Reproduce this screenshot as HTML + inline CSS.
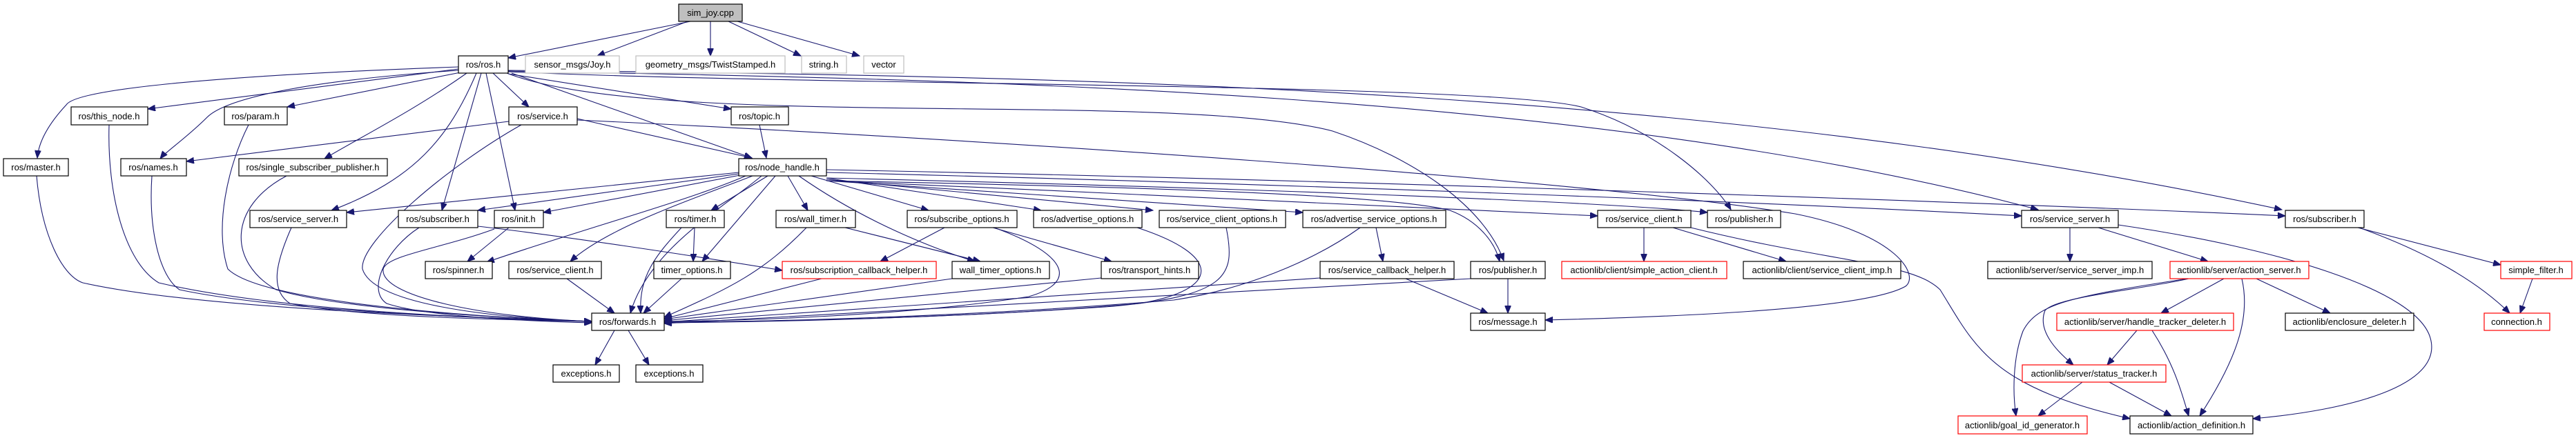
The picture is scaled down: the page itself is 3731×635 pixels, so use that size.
<!DOCTYPE html>
<html><head><meta charset="utf-8"><style>
html,body{margin:0;padding:0;background:#fff;}
svg{display:block;}
text{font-family:"Liberation Sans",Arial,sans-serif;font-size:13px;fill:#000;text-anchor:middle;}
.n{fill:#fff;stroke:#000;stroke-width:1.2;}
.g{fill:#fff;stroke:#bfbfbf;stroke-width:1.2;}
.r{fill:#fff;stroke:#ff0000;stroke-width:1.2;}
path{fill:none;stroke:#191970;stroke-width:1.1;marker-end:url(#a);}
</style></head><body>
<svg width="3731" height="635" viewBox="0 0 3731 635" xmlns="http://www.w3.org/2000/svg">
<defs><marker id="a" markerUnits="userSpaceOnUse" markerWidth="12" markerHeight="9" refX="11" refY="4.5" orient="auto"><polygon points="0,0 11,4.5 0,9" fill="#191970" stroke="#191970"/></marker></defs>
<!-- edges -->
<path d="M1000,31 L736,84"/>
<path d="M996,31 L865,81"/>
<path d="M1029,31 L1029,81"/>
<path d="M1055,31 L1160,81"/>
<path d="M1068,31 L1245,81"/>
<path d="M664,97 C300,110 110,130 96,152 C70,180 56,205 54,229"/>
<path d="M664,100 L214,158"/>
<path d="M672,104 L416,155"/>
<path d="M664,102 C400,120 320,150 300,170 C270,200 240,220 232,230"/>
<path d="M676,106 C600,160 520,200 470,230"/>
<path d="M714,106 L766,155"/>
<path d="M690,106 C650,200 600,260 480,305"/>
<path d="M697,106 L640,305"/>
<path d="M704,106 L746,305"/>
<path d="M736,107 L1059,158"/>
<path d="M741,106 L1089,229"/>
<path d="M736,104 C1200,125 2150,120 2290,155 C2400,190 2480,260 2507,304"/>
<path d="M736,103 C1400,115 2300,130 2952,304"/>
<path d="M736,102 C1600,110 2500,130 3305,304"/>
<path d="M734,106 C950,190 1700,130 1930,190 C2050,230 2150,300 2178,378"/>
<path d="M1100,181 L1110,229"/>
<path d="M737,176 L270,234"/>
<path d="M836,172 L1089,229"/>
<path d="M755,181 C650,240 520,350 525,390 C540,440 700,460 857,466"/>
<path d="M836,174 C1400,200 2300,260 2600,310 C2750,340 2780,400 2760,415 C2700,450 2400,460 2238,464"/>
<path d="M1070,250 L502,308"/>
<path d="M1070,252 L692,305"/>
<path d="M1072,254 L787,308"/>
<path d="M1080,255 C1000,290 850,330 705,380"/>
<path d="M1090,255 C1000,290 880,330 826,379"/>
<path d="M1103,255 C1050,300 940,360 913,454"/>
<path d="M1112,255 L1030,305"/>
<path d="M1123,255 L1017,379"/>
<path d="M1141,255 L1170,305"/>
<path d="M1157,255 C1250,320 1350,360 1412,379"/>
<path d="M1175,255 L1345,305"/>
<path d="M1197,258 L1508,305"/>
<path d="M1197,260 L1670,305"/>
<path d="M1197,262 L1887,308"/>
<path d="M1197,262 C1600,280 2100,300 2314,313"/>
<path d="M1197,258 C1700,270 2300,290 2473,308"/>
<path d="M1197,250 C1800,265 2500,290 2928,313"/>
<path d="M1197,246 C1900,260 2800,290 3310,313"/>
<path d="M1197,262 C1600,270 2000,280 2100,305 C2140,320 2165,350 2172,379"/>
<path d="M692,328 C800,340 1000,370 1133,392"/>
<path d="M607,330 C560,360 530,420 560,440 C620,460 780,466 857,468"/>
<path d="M737,330 L677,379"/>
<path d="M716,332 C640,360 560,370 555,390 C550,430 700,460 857,466"/>
<path d="M422,330 C400,380 390,420 420,440 C520,460 740,464 857,466"/>
<path d="M53,255 C60,340 90,400 120,410 C300,450 700,460 857,466"/>
<path d="M158,181 C155,280 180,380 230,410 C400,450 700,462 857,466"/>
<path d="M220,255 C215,330 230,400 260,420 C400,450 700,462 857,466"/>
<path d="M360,181 C330,240 310,330 330,390 C380,440 700,460 857,466"/>
<path d="M415,255 C330,300 330,380 400,420 C500,450 750,462 857,466"/>
<path d="M821,404 L890,454"/>
<path d="M1006,330 L1004,379"/>
<path d="M987,330 C950,370 925,400 928,454"/>
<path d="M987,404 L932,454"/>
<path d="M1224,330 L1420,379"/>
<path d="M1168,330 C1100,400 1050,420 962,460"/>
<path d="M1368,330 L1275,379"/>
<path d="M1438,330 L1610,379"/>
<path d="M1440,330 C1550,370 1560,410 1490,430 C1300,460 1050,465 962,466"/>
<path d="M1647,330 C1770,370 1770,420 1650,440 C1400,462 1100,466 962,467"/>
<path d="M1776,330 C1790,400 1780,430 1600,445 C1300,465 1050,467 962,468"/>
<path d="M1993,330 L2003,379"/>
<path d="M1970,330 C1900,380 1800,420 1700,435 C1400,460 1100,466 962,468"/>
<path d="M1190,404 L962,462"/>
<path d="M1379,404 L962,463"/>
<path d="M1595,403 L962,465"/>
<path d="M1912,403 L962,467"/>
<path d="M2036,404 L2155,454"/>
<path d="M2184,404 L2184,454"/>
<path d="M2130,404 L962,469"/>
<path d="M2381,330 L2381,379"/>
<path d="M2423,330 L2587,379"/>
<path d="M2449,330 C2650,380 2770,380 2810,420 C2860,500 2880,560 3085,607"/>
<path d="M2998,330 L2998,379"/>
<path d="M3039,330 L3198,379"/>
<path d="M3068,326 C3300,360 3500,420 3520,490 C3540,560 3400,595 3263,607"/>
<path d="M3415,330 L3622,384"/>
<path d="M3417,330 C3500,360 3580,400 3635,454"/>
<path d="M3668,404 L3650,454"/>
<path d="M3221,404 L3130,454"/>
<path d="M3268,404 L3375,454"/>
<path d="M3170,404 C3100,420 2980,430 2962,450 C2950,480 2980,510 3003,529"/>
<path d="M3168,404 C3000,430 2950,440 2930,480 C2915,520 2915,570 2920,603"/>
<path d="M3247,404 C3260,460 3240,520 3186,603"/>
<path d="M3095,479 L3052,529"/>
<path d="M3117,479 C3150,530 3160,570 3170,603"/>
<path d="M3016,554 L2952,603"/>
<path d="M3055,554 L3145,603"/>
<path d="M890,479 L862,529"/>
<path d="M910,479 L940,529"/>
<!-- nodes -->
<rect x="983" y="6" width="92" height="25" fill="#bfbfbf" stroke="#000" stroke-width="1.2"/><text x="1029" y="23">sim_joy.cpp</text>
<rect class="n" x="664" y="81" width="72" height="25"/><text x="700" y="98">ros/ros.h</text>
<rect class="g" x="761" y="81" width="136" height="25"/><text x="829" y="98">sensor_msgs/Joy.h</text>
<rect class="g" x="921" y="81" width="216" height="25"/><text x="1029" y="98">geometry_msgs/TwistStamped.h</text>
<rect class="g" x="1161" y="81" width="65" height="25"/><text x="1193" y="98">string.h</text>
<rect class="g" x="1251" y="81" width="58" height="25"/><text x="1280" y="98">vector</text>
<rect class="n" x="103" y="155" width="111" height="26"/><text x="158" y="173">ros/this_node.h</text>
<rect class="n" x="325" y="155" width="91" height="26"/><text x="370" y="173">ros/param.h</text>
<rect class="n" x="737" y="155" width="99" height="26"/><text x="786" y="173">ros/service.h</text>
<rect class="n" x="1059" y="155" width="83" height="26"/><text x="1100" y="173">ros/topic.h</text>
<rect class="n" x="5" y="230" width="94" height="25"/><text x="52" y="247">ros/master.h</text>
<rect class="n" x="175" y="230" width="95" height="25"/><text x="222" y="247">ros/names.h</text>
<rect class="n" x="346" y="230" width="215" height="25"/><text x="453" y="247">ros/single_subscriber_publisher.h</text>
<rect class="n" x="1070" y="230" width="127" height="25"/><text x="1133" y="247">ros/node_handle.h</text>
<rect class="n" x="362" y="305" width="140" height="25"/><text x="432" y="322">ros/service_server.h</text>
<rect class="n" x="577" y="305" width="115" height="25"/><text x="634" y="322">ros/subscriber.h</text>
<rect class="n" x="716" y="305" width="71" height="25"/><text x="751" y="322">ros/init.h</text>
<rect class="n" x="965" y="305" width="84" height="25"/><text x="1007" y="322">ros/timer.h</text>
<rect class="n" x="1124" y="305" width="115" height="25"/><text x="1181" y="322">ros/wall_timer.h</text>
<rect class="n" x="1314" y="305" width="159" height="25"/><text x="1393" y="322">ros/subscribe_options.h</text>
<rect class="n" x="1497" y="305" width="157" height="25"/><text x="1575" y="322">ros/advertise_options.h</text>
<rect class="n" x="1679" y="305" width="183" height="25"/><text x="1770" y="322">ros/service_client_options.h</text>
<rect class="n" x="1887" y="305" width="207" height="25"/><text x="1990" y="322">ros/advertise_service_options.h</text>
<rect class="n" x="2314" y="305" width="135" height="25"/><text x="2381" y="322">ros/service_client.h</text>
<rect class="n" x="2473" y="305" width="106" height="25"/><text x="2526" y="322">ros/publisher.h</text>
<rect class="n" x="2928" y="305" width="140" height="25"/><text x="2998" y="322">ros/service_server.h</text>
<rect class="n" x="3310" y="305" width="114" height="25"/><text x="3367" y="322">ros/subscriber.h</text>
<rect class="n" x="616" y="379" width="97" height="25"/><text x="664" y="396">ros/spinner.h</text>
<rect class="n" x="737" y="379" width="134" height="25"/><text x="804" y="396">ros/service_client.h</text>
<rect class="n" x="947" y="379" width="111" height="25"/><text x="1002" y="396">timer_options.h</text>
<rect class="r" x="1133" y="379" width="223" height="25"/><text x="1244" y="396">ros/subscription_callback_helper.h</text>
<rect class="n" x="1379" y="379" width="141" height="25"/><text x="1449" y="396">wall_timer_options.h</text>
<rect class="n" x="1595" y="379" width="141" height="25"/><text x="1665" y="396">ros/transport_hints.h</text>
<rect class="n" x="1912" y="379" width="194" height="25"/><text x="2009" y="396">ros/service_callback_helper.h</text>
<rect class="n" x="2130" y="379" width="108" height="25"/><text x="2184" y="396">ros/publisher.h</text>
<rect class="r" x="2262" y="379" width="239" height="25"/><text x="2381" y="396">actionlib/client/simple_action_client.h</text>
<rect class="n" x="2525" y="379" width="228" height="25"/><text x="2639" y="396">actionlib/client/service_client_imp.h</text>
<rect class="n" x="2879" y="379" width="238" height="25"/><text x="2998" y="396">actionlib/server/service_server_imp.h</text>
<rect class="r" x="3143" y="379" width="201" height="25"/><text x="3243" y="396">actionlib/server/action_server.h</text>
<rect class="r" x="3622" y="379" width="103" height="25"/><text x="3673" y="396">simple_filter.h</text>
<rect class="n" x="857" y="454" width="105" height="25"/><text x="909" y="471">ros/forwards.h</text>
<rect class="n" x="2130" y="454" width="108" height="25"/><text x="2184" y="471">ros/message.h</text>
<rect class="r" x="2979" y="454" width="256" height="25"/><text x="3107" y="471">actionlib/server/handle_tracker_deleter.h</text>
<rect class="n" x="3310" y="454" width="186" height="25"/><text x="3403" y="471">actionlib/enclosure_deleter.h</text>
<rect class="r" x="3598" y="454" width="95" height="25"/><text x="3645" y="471">connection.h</text>
<rect class="n" x="801" y="529" width="96" height="25"/><text x="849" y="546">exceptions.h</text>
<rect class="n" x="921" y="529" width="97" height="25"/><text x="969" y="546">exceptions.h</text>
<rect class="r" x="2929" y="529" width="208" height="25"/><text x="3033" y="546">actionlib/server/status_tracker.h</text>
<rect class="r" x="2836" y="603" width="187" height="26"/><text x="2929" y="621">actionlib/goal_id_generator.h</text>
<rect class="n" x="3085" y="603" width="178" height="26"/><text x="3174" y="621">actionlib/action_definition.h</text>
</svg>
</body></html>
